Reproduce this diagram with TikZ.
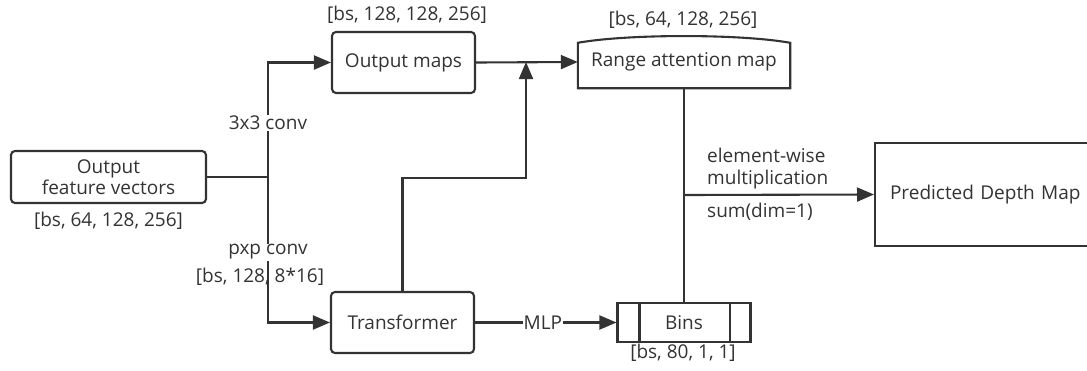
\documentclass[tikz,border=0pt]{standalone}
\usepackage{fontspec}
\setmainfont{Open Sans}
\usetikzlibrary{arrows.meta}
\definecolor{ink}{HTML}{333333}
\begin{document}
\begin{tikzpicture}[x=1pt,y=-1pt,
  font=\fontsize{19}{21.5}\selectfont,
  line/.style={draw=ink, line width=2.1pt},
  arr/.style={line, -{Triangle[length=17pt,width=14pt]}},
  rbox/.style={draw=ink, line width=2.1pt, rounded corners=4pt, inner sep=0pt, align=center, text=ink},
  sbox/.style={draw=ink, line width=2.1pt, inner sep=0pt, align=center, text=ink},
  lbl/.style={text=ink, inner sep=1pt, align=left},
  cut/.style={lbl, fill=white}]
\useasboundingbox (0,0) rectangle (1087,370);

% blocks
\node[rbox, minimum width=195pt, minimum height=52pt] (ofv) at (108.5,177) {Output\\feature vectors};
\node[lbl] (ofvdim) at (108.5,221) {[bs, 64, 128, 256]};

\node[rbox, minimum width=143pt, minimum height=61pt] (om) at (403.5,62.5) {Output maps};
\node[lbl] (omdim) at (407,15) {[bs, 128, 128, 256]};

\node[inner sep=0pt, minimum width=212pt, minimum height=52pt, text=ink] (ram) at (684,62) {Range attention map};
\draw[line, line join=miter] (ram.south west) -- (ram.south east) -- ([yshift=-7pt]ram.north east)
  .. controls ([xshift=-50pt,yshift=2pt]ram.north east) and ([xshift=50pt,yshift=2pt]ram.north west)
  .. ([yshift=-7pt]ram.north west) -- cycle;
\node[lbl] (ramdim) at (683,20) {[bs, 64, 128, 256]};

\node[rbox, minimum width=143pt, minimum height=61pt] (tr) at (402.5,322.5) {Transformer};

\node[sbox, minimum width=133pt, minimum height=39pt] (bins) at (684,322.5) {Bins};
\draw[line] ([xshift=23pt]bins.north west) -- ([xshift=23pt]bins.south west);
\draw[line] ([xshift=-22pt]bins.north east) -- ([xshift=-22pt]bins.south east);
\node[lbl] (binsdim) at (683,353) {[bs, 80, 1, 1]};

% the output block runs on past the right edge of the page
\node[sbox, anchor=west, text width=200pt, align=left, inner xsep=15pt, minimum height=103pt] (pdm) at (874,194.5) {Predicted Depth Map};

% connectors
\coordinate (j) at (268,177);
\draw[line] (ofv.east) -- (j);
\draw[arr] (j) |- node[cut, pos=0.236] (c33) {3x3 conv} (om.west);
\draw[arr] (j) |- node[cut, pos=0.258] (cpp) {pxp conv} (tr.west);
\node[lbl] (pxpdim) at (260,277) {[bs, 128, 8*16]};

\draw[arr] (om.east) -- (ram.west);
\coordinate (t1) at (402.5,178);
\coordinate (m) at (526,62);
\draw[arr] (tr.north) -- (t1) -| (m);

\draw[arr] (tr.east) -- node[cut, pos=0.48] (mlp) {MLP} (bins.west);

\draw[line] (ram.south) -- (bins.north);
\coordinate (k) at (684,195);
\draw[arr] (k) -- (pdm.west);
\node[lbl, anchor=west] (ew) at (706,168.5) {element-wise\\multiplication};
\node[lbl, anchor=west] (sum) at (706,212) {sum(dim=1)};
\end{tikzpicture}
\end{document}
